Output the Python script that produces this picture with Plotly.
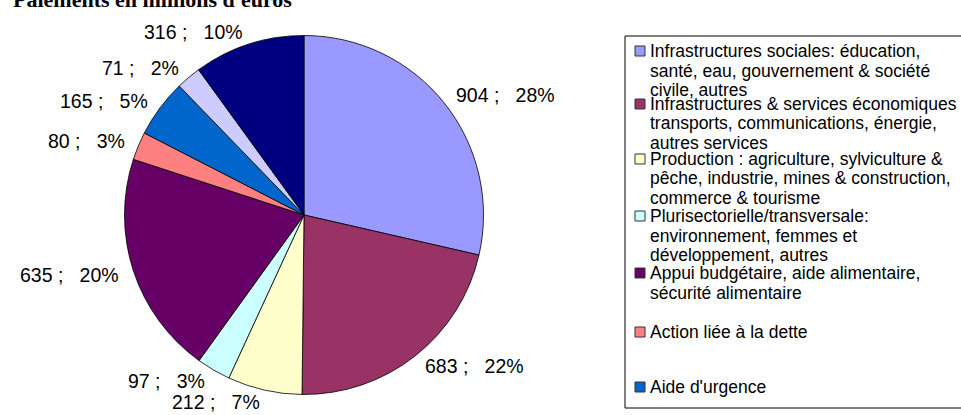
import numpy as np
import plotly.graph_objects as go

W, H = 961, 415

# data (payments, million euros)
categories = [
    "Infrastructures sociales: éducation,\nsanté, eau, gouvernement & société\ncivile, autres",
    "Infrastructures & services économiques\ntransports, communications, énergie,\nautres services",
    "Production : agriculture, sylviculture &\npêche, industrie, mines & construction,\ncommerce & tourisme",
    "Plurisectorielle/transversale:\nenvironnement, femmes et\ndéveloppement, autres",
    "Appui budgétaire, aide alimentaire,\nsécurité alimentaire",
    "Action liée à la dette",
    "Aide d'urgence",
    "Frais administratifs",
    "Non ventilé",
]
values = [904, 683, 212, 97, 635, 80, 165, 71, 316]
percents = [28, 22, 7, 3, 20, 3, 5, 2, 10]
colors = ["#9999FF", "#993366", "#FFFFCC", "#CCFFFF", "#660066",
          "#FF8080", "#0066CC", "#CCCCFF", "#000080"]
title = "Paiements en millions d'euros"

# geometry in pixels
cx, cy, r = 304, 215, 179.5


def px(x):
    return x / W


def py(y):
    return (H - y) / H


fig = go.Figure(go.Pie(
    labels=[c.replace("\n", " ") for c in categories],
    values=values,
    sort=False,
    direction="clockwise",
    rotation=0,
    marker=dict(colors=colors, line=dict(color="black", width=0.8)),
    textinfo="none",
    hoverinfo="label+value",
    showlegend=False,
    domain=dict(x=[px(cx - r), px(cx + r)], y=[py(cy + r), py(cy - r)]),
))

annotations = []
shapes = []

# data labels, outside end like excel
total = float(sum(values))
mids = (np.cumsum(values) - np.array(values) / 2.0) / total * 2 * np.pi
nb = "\u00a0"
for v, p, a in zip(values, percents, mids):
    lx = cx + 1.07 * r * np.sin(a)
    ly = cy - 1.07 * r * np.cos(a)
    annotations.append(dict(
        x=px(lx), y=py(ly), xref="paper", yref="paper",
        text=f"{v}{nb};{nb}{nb}{nb}{p}%", showarrow=False,
        xanchor="left" if np.sin(a) > 0 else "right", yanchor="middle",
        font=dict(family="Liberation Sans, Arial", size=19.5, color="black"),
    ))

# title (cut off at the top in the original)
annotations.append(dict(
    x=px(152), y=py(14), xref="paper", yref="paper", text=f"<b>{title}</b>",
    showarrow=False, xanchor="center", yanchor="bottom",
    font=dict(family="Liberation Serif, Times New Roman", size=22, color="black"),
))

# legend box
shapes.append(dict(type="rect", xref="paper", yref="paper",
                   x0=px(625), x1=px(975), y0=py(408), y1=py(36),
                   line=dict(color="black", width=1), fillcolor="rgba(0,0,0,0)"))
leg_top = [51, 104, 159, 216, 273, 332, 387]
for i, top in enumerate(leg_top):
    shapes.append(dict(type="rect", xref="paper", yref="paper",
                       x0=px(635), x1=px(645), y0=py(top + 5), y1=py(top - 5),
                       line=dict(color="#333333", width=1), fillcolor=colors[i]))
    for k, line in enumerate(categories[i].split("\n")):
        annotations.append(dict(
            x=px(648), y=py(top + k * 19.5), xref="paper", yref="paper",
            text=line, showarrow=False, xanchor="left", yanchor="middle",
            font=dict(family="Liberation Sans, Arial", size=17.5, color="black"),
        ))

fig.update_layout(
    width=W, height=H,
    margin=dict(l=0, r=0, t=0, b=0),
    paper_bgcolor="white", plot_bgcolor="white",
    annotations=annotations, shapes=shapes,
)

# page body has a default 8px margin; drop it so the figure fills the window
fig.write_html("out.html", config={"displayModeBar": False},
               post_script="document.body.style.margin='0px';")
